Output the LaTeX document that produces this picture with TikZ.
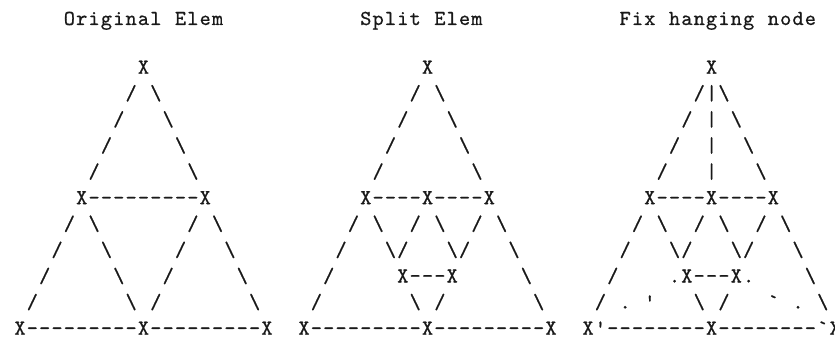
\documentclass[tikz,border=0pt]{standalone}
\usepackage{fontspec}
\setmonofont{lmmono10-regular.otf}[FakeBold=0.7]
\newcommand\Bk{\textbackslash}
\def\cw{12.35pt}
\let\cellsend\relax
\def\cells#1{\cellsloop#1\cellsend}
\def\cellsloop#1{\ifx#1\cellsend\else\cellput#1\expandafter\cellsloop\fi}
\def\cellput#1{\ifx#1*\hbox to \cw{}\else\hbox to \cw{\hss#1\hss}\fi}
\tikzset{asc/.style={anchor=base west, inner sep=0pt, outer sep=0pt,
  font=\ttfamily\fontsize{21.3}{24}\selectfont, text=black!90}}
\newcommand\trow[4]{\node[asc] (#1) at ({13.825+12.35*#2}, {-21.5-26.1*#3}) {\cells{#4}};}
\begin{document}
\begin{tikzpicture}[x=1pt,y=1pt]
\fill[white] (0,0) rectangle (835,-339);
\useasboundingbox (0,0) rectangle (835,-339);
% titles
\node[asc] (title1) at ({13.825+12.35*4},-25) {\cells{Original*Elem}};
\node[asc] (title2) at ({13.825+12.35*28},-25) {\cells{Split*Elem}};
\node[asc] (title3) at ({13.825+12.35*49},-25) {\cells{Fix*hanging*node}};
% Original Elem
\trow{a2}{0}{2}{**********X}
\trow{a3}{0}{3}{*********/*\Bk}
\trow{a4}{0}{4}{********/***\Bk}
\trow{a5}{0}{5}{*******/*****\Bk}
\trow{a6}{0}{6}{******/*******\Bk}
\trow{a7}{0}{7}{*****X---------X}
\trow{a8}{0}{8}{****/*\Bk*******/*\Bk}
\trow{a9}{0}{9}{***/***\Bk*****/***\Bk}
\trow{a10}{0}{10}{**/*****\Bk***/*****\Bk}
\trow{a11}{0}{11}{*/*******\Bk*/*******\Bk}
\trow{a12}{0}{12}{X---------X---------X}
% Split Elem
\trow{b2}{23}{2}{**********X}
\trow{b3}{23}{3}{*********/*\Bk}
\trow{b4}{23}{4}{********/***\Bk}
\trow{b5}{23}{5}{*******/*****\Bk}
\trow{b6}{23}{6}{******/*******\Bk}
\trow{b7}{23}{7}{*****X----X----X}
\trow{b8}{23}{8}{****/*\Bk**/*\Bk**/*\Bk}
\trow{b9}{23}{9}{***/***\Bk/***\Bk/***\Bk}
\trow{b10}{23}{10}{**/*****X---X*****\Bk}
\trow{b11}{23}{11}{*/*******\Bk*/*******\Bk}
\trow{b12}{23}{12}{X---------X---------X}
% Fix hanging node
\trow{c2}{46}{2}{**********X}
\trow{c3}{46}{3}{*********/|\Bk}
\trow{c4}{46}{4}{********/*|*\Bk}
\trow{c5}{46}{5}{*******/**|**\Bk}
\trow{c6}{46}{6}{******/***|***\Bk}
\trow{c7}{46}{7}{*****X----X----X}
\trow{c8}{46}{8}{****/*\Bk**/*\Bk**/*\Bk}
\trow{c9}{46}{9}{***/***\Bk/***\Bk/***\Bk}
\trow{c10}{46}{10}{**/****.X---X.****\Bk}
\trow{c11}{46}{11}{*/*.*'***\Bk*/***`*.*\Bk}
\trow{c12}{46}{12}{X'--------X--------`X}
\end{tikzpicture}
\end{document}
